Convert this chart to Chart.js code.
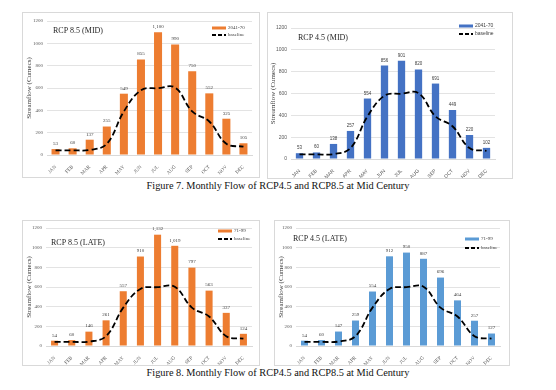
<!DOCTYPE html>
<html>
<head>
<meta charset="utf-8">
<style>
  body { margin: 0; background: #fff; width: 556px; height: 390px; position: relative; overflow: hidden; }
  .box { position: absolute; border: 1px solid #d9d9d9; box-sizing: border-box; }
  .box canvas { position: absolute; left: 0; top: 0; }
  .cap { position: absolute; left: 0; width: 556px; text-align: center; font-family: "Liberation Serif", serif; font-size: 10.3px; color: #111; }
</style>
</head>
<body>
<div class="box" style="left:22px;top:12px;width:238px;height:166px"><canvas id="c1" width="236" height="164"></canvas></div>
<div class="box" style="left:267px;top:12px;width:246px;height:167px"><canvas id="c2" width="244" height="165"></canvas></div>
<div class="box" style="left:22px;top:220px;width:238px;height:146px"><canvas id="c3" width="236" height="144"></canvas></div>
<div class="box" style="left:274px;top:220px;width:236px;height:146px"><canvas id="c4" width="234" height="144"></canvas></div>
<div class="cap" style="top:180px">Figure 7. Monthly Flow of RCP4.5 and RCP8.5 at Mid Century</div>
<div class="cap" style="top:367px">Figure 8. Monthly Flow of RCP4.5 and RCP8.5 at Mid Century</div>

<script src="https://cdn.jsdelivr.net/npm/chart.js"></script>
<script>
const months = ['JAN', 'FEB', 'MAR', 'APR', 'MAY', 'JUN', 'JUL', 'AUG', 'SEP', 'OCT', 'NOV', 'DEC'];
const baseline = [42, 42, 45, 100, 390, 580, 598, 603, 390, 300, 100, 75];
const rcp85Mid = [53, 60, 137, 255, 549, 855, 1100, 990, 750, 552, 325, 105];
const rcp45Mid = [53, 60, 138, 257, 554, 856, 901, 820, 691, 449, 220, 102];
const rcp85Late = [54, 60, 146, 261, 557, 910, 1132, 1019, 797, 563, 337, 124];
const rcp45Late = [54, 60, 147, 259, 554, 912, 950, 887, 696, 464, 257, 127];

const serif = '"Liberation Serif", serif';
const sans = '"Liberation Sans", sans-serif';

// draws value labels, chart title and the small legend
const extras = {
  id: 'extras',
  afterDatasetsDraw(chart) {
    const o = chart.options.plugins.extras;
    const ctx = chart.ctx;
    ctx.save();
    // bar values
    const meta = chart.getDatasetMeta(1);
    ctx.fillStyle = '#404040';
    ctx.font = o.labelSize + 'px ' + o.font;
    ctx.textAlign = 'center';
    ctx.textBaseline = 'bottom';
    meta.data.forEach((el, i) => {
      const v = chart.data.datasets[1].data[i];
      ctx.fillText(v.toLocaleString('en-US'), el.x, el.y - 3);
    });
    // title
    ctx.fillStyle = '#262626';
    ctx.font = '8px ' + serif;
    ctx.textAlign = 'left';
    ctx.textBaseline = 'middle';
    ctx.fillText(o.title, o.tx, o.ty);
    // legend
    const L = o.legend;
    ctx.fillStyle = o.color;
    ctx.fillRect(L.x, L.y - 1.5, 14, 3);
    ctx.strokeStyle = '#000';
    ctx.lineWidth = 1.8;
    ctx.setLineDash([4, 2]);
    ctx.beginPath();
    ctx.moveTo(L.x, L.y + L.gap);
    ctx.lineTo(L.x + 14, L.y + L.gap);
    ctx.stroke();
    ctx.setLineDash([]);
    ctx.fillStyle = '#404040';
    ctx.font = '5px ' + o.font;
    ctx.fillText(o.series, L.x + 16, L.y);
    ctx.fillText('baseline', L.x + 16, L.y + L.gap);
    ctx.restore();
  }
};

function makeChart(id, values, cfg) {
  new Chart(document.getElementById(id), {
    data: {
      labels: months,
      datasets: [
        {
          type: 'line',
          label: 'baseline',
          data: baseline,
          borderColor: '#000',
          borderWidth: 1.8,
          borderDash: [6, 3],
          pointRadius: 0,
          tension: 0.4,
          fill: false,
          order: 0
        },
        {
          type: 'bar',
          label: cfg.series,
          data: values,
          backgroundColor: cfg.color,
          categoryPercentage: 1,
          barPercentage: cfg.barPct,
          order: 1
        }
      ]
    },
    options: {
      responsive: false,
      animation: false,
      layout: { padding: { top: cfg.top, right: cfg.right, left: 0, bottom: 0 } },
      scales: {
        x: {
          grid: { display: false },
          border: { color: '#d9d9d9' },
          ticks: {
            autoSkip: false, minRotation: 45, maxRotation: 45, padding: 1,
            color: '#595959', font: { family: cfg.font, size: 5 }
          },
          afterFit(s) { s.height = cfg.bottom; }
        },
        y: {
          min: 0, max: 1200,
          grid: { color: '#e3e3e3', drawTicks: false },
          border: { display: false },
          ticks: {
            stepSize: 200, padding: 4,
            color: '#595959', font: { family: cfg.font, size: 5 },
            callback: v => String(v)
          },
          title: {
            display: true, text: 'Streamflow (Cumecs)', color: '#404040',
            font: { family: serif, size: 7 }, padding: { top: cfg.titlePad, bottom: 0 }
          },
          afterFit(s) { s.width = cfg.left; }
        }
      },
      plugins: {
        legend: { display: false },
        tooltip: { enabled: false },
        extras: {
          title: cfg.title, tx: cfg.tx, ty: cfg.ty,
          series: cfg.series, color: cfg.color, font: cfg.font,
          labelSize: cfg.labelSize, legend: cfg.legend
        }
      }
    },
    plugins: [extras]
  });
}

makeChart('c1', rcp85Mid, {
  title: 'RCP 8.5 (MID)', tx: 30, ty: 18, series: '2041-70', color: '#ED7D31', font: serif,
  labelSize: 5, barPct: 0.47, top: 8, right: 7, bottom: 22, left: 24, titlePad: 2,
  legend: { x: 189, y: 15, gap: 7 }
});
makeChart('c2', rcp45Mid, {
  title: 'RCP 4.5 (MID)', tx: 30, ty: 25, series: '2041-70', color: '#4472C4', font: sans,
  labelSize: 4.5, barPct: 0.43, top: 15, right: 17, bottom: 19, left: 23, titlePad: 1,
  legend: { x: 191, y: 13, gap: 8 }
});
makeChart('c3', rcp85Late, {
  title: 'RCP 8.5 (LATE)', tx: 28, ty: 22, series: '71-99', color: '#ED7D31', font: serif,
  labelSize: 5, barPct: 0.41, top: 7, right: 7, bottom: 19, left: 23, titlePad: 2,
  legend: { x: 195, y: 10, gap: 8 }
});
makeChart('c4', rcp45Late, {
  title: 'RCP 4.5 (LATE)', tx: 18, ty: 18, series: '71-99', color: '#5B9BD5', font: serif,
  labelSize: 5, barPct: 0.41, top: 7, right: 9, bottom: 19, left: 21, titlePad: 2,
  legend: { x: 190, y: 18, gap: 9 }
});
</script>
</body>
</html>
